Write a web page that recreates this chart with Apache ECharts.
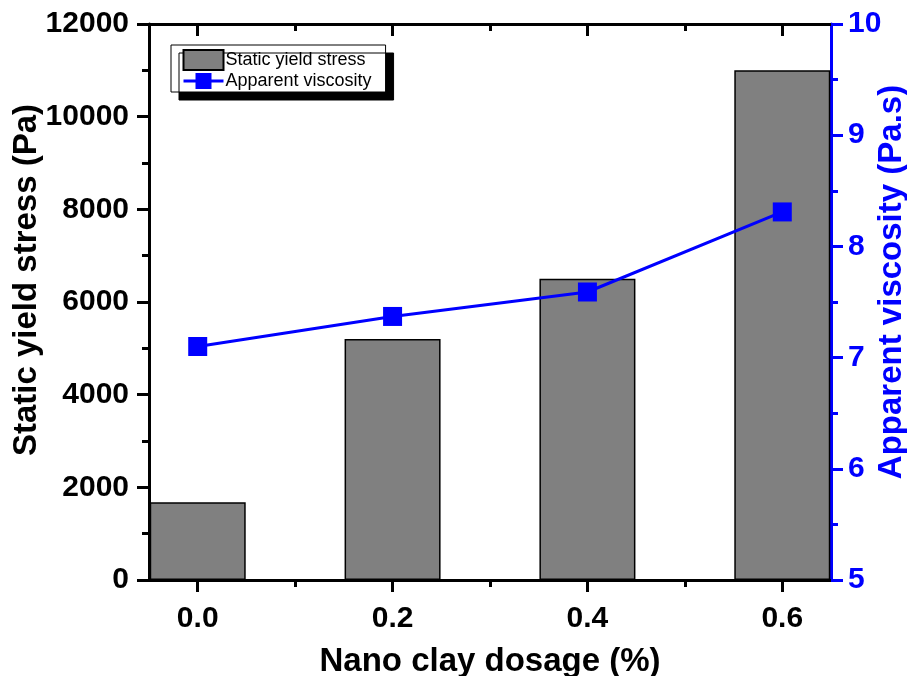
<!DOCTYPE html>
<html>
<head>
<meta charset="utf-8">
<script src="https://cdn.jsdelivr.net/npm/echarts@6/dist/echarts.min.js"></script>
<style>
  html, body { margin: 0; padding: 0; background: #fff; }
  #chart { width: 907px; height: 676px; }
</style>
</head>
<body>
<div id="chart"></div>
<script>
// nano clay dosage (%)
const dosage = [0.0, 0.2, 0.4, 0.6]
// static yield stress (Pa)
const yieldStress = [1680, 5200, 6500, 11000]
// apparent viscosity (Pa.s)
const viscosity = [7.1, 7.37, 7.59, 8.31]
const majorX = [0.0, 0.2, 0.4, 0.6]
const minorX = [0.1, 0.3, 0.5]

const FONT = "'Liberation Sans', Arial, sans-serif"
const BLUE = '#0000ff'

const chart = echarts.init(document.getElementById('chart'))

function xAxisDef(position, values, len, inside, withLabel) {
  return {
    type: 'value',
    position: position,
    min: -0.05,
    max: 0.65,
    axisLine: { show: true, onZero: false, lineStyle: { color: '#000', width: 3 } },
    axisTick: {
      show: true,
      inside: inside,
      length: len,
      customValues: values,
      lineStyle: { color: '#000', width: 3 }
    },
    axisLabel: withLabel
      ? {
          show: true,
          customValues: values,
          formatter: (v) => v.toFixed(1),
          margin: 24,
          color: '#000',
          fontFamily: FONT,
          fontWeight: 'bold',
          fontSize: 30
        }
      : { show: false },
    splitLine: { show: false }
  }
}

const xMain = xAxisDef('bottom', majorX, 12, false, true)
xMain.name = 'Nano clay dosage (%)'
xMain.nameLocation = 'middle'
xMain.nameGap = 65
xMain.nameTextStyle = { color: '#000', fontFamily: FONT, fontWeight: 'bold', fontSize: 33 }

// y axis titles as plain rotated text, so they sit where the reference has them
function axisTitle(text, x, y, color) {
  return {
    type: 'text',
    x: x,
    y: y,
    rotation: Math.PI / 2,
    style: {
      text: text,
      fill: color,
      font: 'bold 33px ' + FONT,
      align: 'center',
      verticalAlign: 'middle'
    }
  }
}

chart.setOption({
  animation: false,
  backgroundColor: '#fff',
  grid: { left: 149, right: 76, top: 24, bottom: 96, containLabel: false, outerBoundsMode: 'none' },
  graphic: [
    axisTitle('Static yield stress (Pa)', 27, 280, '#000'),
    axisTitle('Apparent viscosity (Pa.s)', 892, 282, BLUE)
  ],
  legend: {
    orient: 'vertical',
    left: 171,
    top: 45,
    padding: [4, 14, 2, 11],
    itemGap: 1,
    itemWidth: 40,
    itemHeight: 20,
    backgroundColor: '#fff',
    borderColor: '#000',
    borderWidth: 1,
    shadowColor: '#000',
    shadowBlur: 0,
    shadowOffsetX: 8,
    shadowOffsetY: 8,
    textStyle: { color: '#000', fontFamily: FONT, fontSize: 18, padding: [0, 0, 0, -3] },
    data: [
      { name: 'Static yield stress', icon: 'rect' },
      { name: 'Apparent viscosity', lineStyle: { width: 3 } }
    ]
  },
  xAxis: [
    xMain,
    xAxisDef('bottom', minorX, 7, false, false),
    xAxisDef('top', majorX, 12, true, false),
    xAxisDef('top', minorX, 7, true, false)
  ],
  yAxis: [
    {
      type: 'value',
      position: 'left',
      min: 0,
      max: 12000,
      interval: 2000,
      axisLine: { show: true, onZero: false, lineStyle: { color: '#000', width: 3 } },
      axisTick: { show: true, length: 12, lineStyle: { color: '#000', width: 3 } },
      minorTick: { show: true, splitNumber: 2, length: 7, lineStyle: { color: '#000', width: 3 } },
      axisLabel: {
        margin: 20,
        formatter: (v) => String(v),
        color: '#000',
        fontFamily: FONT,
        fontWeight: 'bold',
        fontSize: 30
      },
      splitLine: { show: false }
    },
    {
      type: 'value',
      position: 'right',
      min: 5,
      max: 10,
      interval: 1,
      axisLine: { show: true, onZero: false, lineStyle: { color: BLUE, width: 3 } },
      axisTick: { show: true, length: 12, lineStyle: { color: BLUE, width: 3 } },
      minorTick: { show: true, splitNumber: 2, length: 7, lineStyle: { color: BLUE, width: 3 } },
      axisLabel: {
        margin: 17,
        formatter: (v) => String(v),
        color: BLUE,
        fontFamily: FONT,
        fontWeight: 'bold',
        fontSize: 30
      },
      splitLine: { show: false }
    }
  ],
  series: [
    {
      name: 'Static yield stress',
      type: 'bar',
      xAxisIndex: 0,
      yAxisIndex: 0,
      barWidth: 96,
      itemStyle: { color: '#808080', borderColor: '#000', borderWidth: 1.5 },
      data: dosage.map((d, i) => [d, yieldStress[i]])
    },
    {
      name: 'Apparent viscosity',
      type: 'line',
      xAxisIndex: 0,
      yAxisIndex: 1,
      symbol: 'rect',
      symbolSize: 19,
      color: BLUE,
      lineStyle: { color: BLUE, width: 3 },
      itemStyle: { color: BLUE },
      data: dosage.map((d, i) => [d, viscosity[i]]),
      z: 3
    }
  ]
})
</script>
</body>
</html>
